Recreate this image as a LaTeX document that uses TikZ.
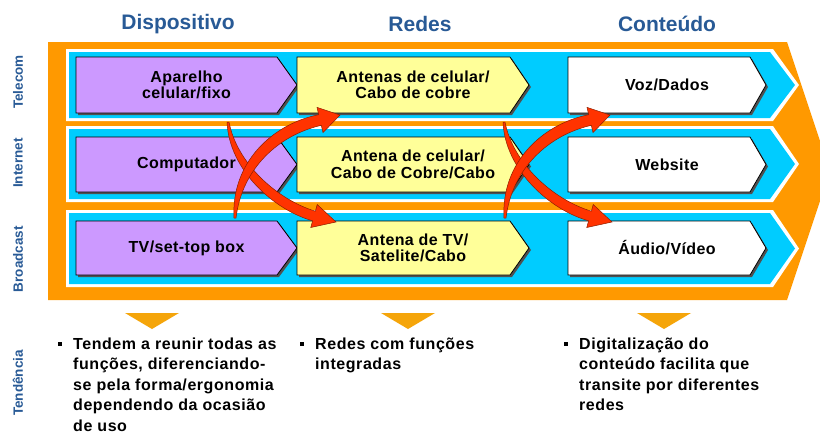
\documentclass[tikz,border=0pt]{standalone}
\usepackage{fontspec}
\setmainfont{Liberation Sans}
\newfontfamily\spacedfont[LetterSpace=2.5]{Liberation Sans}
\newfontfamily\bulletfont[LetterSpace=3.5]{Liberation Sans}
\usetikzlibrary{calc}
\definecolor{org}{RGB}{255,153,0}
\definecolor{cyn}{RGB}{0,204,255}
\definecolor{pur}{RGB}{204,153,255}
\definecolor{yel}{RGB}{255,255,153}
\definecolor{hdr}{RGB}{40,90,150}
\definecolor{tri}{RGB}{245,165,10}
\definecolor{arr}{RGB}{255,51,0}
\definecolor{arrline}{RGB}{140,30,0}
\definecolor{shad}{RGB}{80,80,80}
\tikzset{
  boxshadow/.style={fill=shad},
  boxline/.style={draw=black,line width=0.8pt,line join=miter},
  boxtext/.style={font=\spacedfont\bfseries\fontsize{16}{16.5}\selectfont,align=center,inner sep=0pt,text=black},
  hdrtext/.style={font=\bfseries\fontsize{21}{24}\selectfont,text=hdr,inner sep=0pt},
  sidetext/.style={font=\bfseries\fontsize{13.5}{15}\selectfont,text=hdr,rotate=90,inner sep=0pt},
  bullettext/.style={font=\bulletfont\bfseries\fontsize{16}{20.5}\selectfont,align=left,inner sep=0pt,anchor=north west,text=black},
  bulletsq/.style={fill=black,minimum size=4pt,inner sep=0pt},
  redarrow/.style={fill=arr,draw=arrline,line width=0.5pt,line join=miter},
  tritip/.style={fill=tri},
}
\newcommand{\chevbox}[8]{%
  \fill[boxshadow,shift={(2,2)}] (#1,#4) -- (#2,#4) -- ({#3},{(#4+#5)/2}) -- (#2,#5) -- (#1,#5) -- cycle;
  \filldraw[boxline,fill=#6] (#1,#4) -- (#2,#4) -- ({#3},{(#4+#5)/2}) -- (#2,#5) -- (#1,#5) -- cycle;
  \node[boxtext] (#7) at ({(#1+#3)/2},{(#4+#5)/2}) {#8};
}
\newcommand{\rowband}[2]{%
  \fill[white] (66,{#1-3}) -- (773,{#1-3}) -- (799,{(#1+#2)/2}) -- (773,{#2+3}) -- (66,{#2+3}) -- cycle;
  \fill[cyn] (69,#1) -- (770,#1) -- (795,{(#1+#2)/2}) -- (770,#2) -- (69,#2) -- cycle;
}
\newcommand{\uparrowshape}[1]{%
  \filldraw[redarrow,shift={(#1,0)}] (234,218) .. controls (231,163) and (272,124) .. (318.7,114.7)
    -- (317,107.4) -- (340,115) -- (323,132.6) -- (321.3,125.3)
    .. controls (279,135) and (242,168) .. (236,218) -- cycle;
}
\newcommand{\downarrowshape}[1]{%
  \filldraw[redarrow,shift={(#1,0)}] (229,122) .. controls (237,164) and (278,200) .. (315.4,211.2)
    -- (317.2,204.5) -- (336,222) -- (310.8,227.5) -- (312.6,220.8)
    .. controls (274,210) and (229,170) .. (227,122) -- cycle;
}
\begin{document}
\begin{tikzpicture}[x=1pt,y=-1pt]
\useasboundingbox (0,0) rectangle (820,432);
\clip (0,0) rectangle (820,432);
\fill[white] (0,0) rectangle (820,432);
% headers
\node[hdrtext] (hDisp) at (178,24) {Dispositivo};
\node[hdrtext] (hRedes) at (420,24) {Redes};
\node[hdrtext] (hCont) at (667,24) {Conteúdo};
% side labels
\node[sidetext] (sTel) at (18,82) {Telecom};
\node[sidetext] (sInt) at (18,163) {Internet};
\node[sidetext] (sBro) at (18,259) {Broadcast};
\node[sidetext] (sTen) at (18,383) {Tendência};
% orange frame
\fill[org] (48,42) -- (787,42) -- (830,171) -- (787,300) -- (48,300) -- cycle;
% row bands
\rowband{52}{118}
\rowband{129}{199}
\rowband{213}{284}
% row 1
\chevbox{76}{277}{297}{57}{113}{pur}{d1}{Aparelho\\celular/fixo}
\chevbox{297}{510}{529}{57}{113}{yel}{r1}{Antenas de celular/\\Cabo de cobre}
\chevbox{568}{750}{766}{57}{113}{white}{c1}{Voz/Dados}
% row 2
\chevbox{76}{277}{297}{137}{192}{pur}{d2}{Computador}
\chevbox{297}{510}{529}{137}{192}{yel}{r2}{Antena de celular/\\Cabo de Cobre/Cabo}
\chevbox{568}{750}{766}{137}{192}{white}{c2}{Website}
% row 3
\chevbox{76}{277}{297}{221}{275}{pur}{d3}{TV/set-top box}
\chevbox{297}{510}{529}{221}{275}{yel}{r3}{Antena de TV/\\Satelite/Cabo}
\chevbox{568}{750}{766}{221}{275}{white}{c3}{Áudio/Vídeo}
% red arrows
\downarrowshape{0}
\uparrowshape{0}
\downarrowshape{276}
\uparrowshape{270}
% triangles
\fill[tritip] (125,313) -- (179,313) -- (152,329) -- cycle;
\fill[tritip] (381,313) -- (435,313) -- (408,329) -- cycle;
\fill[tritip] (637,313) -- (691,313) -- (664,329) -- cycle;
% bullets
\node[bulletsq] (b1) at (59.5,344) {};
\node[bullettext] (t1) at (73,337.5) {Tendem a reunir todas as\\funções, diferenciando-\\se pela forma/ergonomia\\dependendo da ocasião\\de uso};
\node[bulletsq] (b2) at (301.5,344) {};
\node[bullettext] (t2) at (315,337.5) {Redes com funções\\integradas};
\node[bulletsq] (b3) at (565.5,344) {};
\node[bullettext] (t3) at (579,337.5) {Digitalização do\\conteúdo facilita que\\transite por diferentes\\redes};
\end{tikzpicture}
\end{document}
